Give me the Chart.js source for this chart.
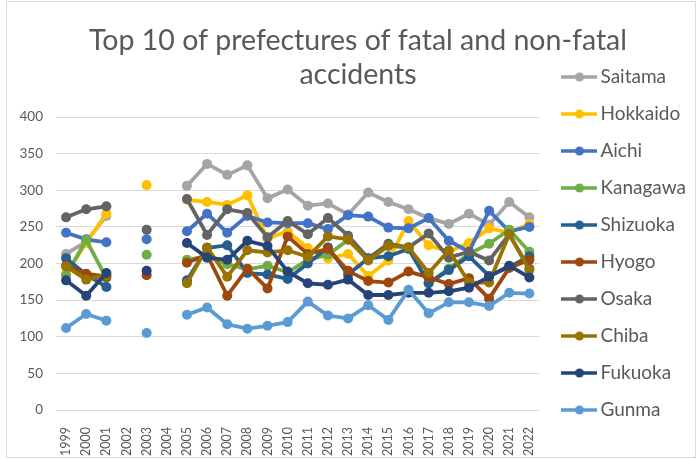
<!DOCTYPE html>
<html>
<head>
<meta charset="utf-8">
<script src="https://cdn.jsdelivr.net/npm/chart.js@4"></script>
<style>
  html, body { margin: 0; padding: 0; background: #fff; }
  #wrap { position: relative; width: 698px; height: 460px; }
  #frame { position: absolute; left: 6px; top: 1px; width: 690px; height: 457px; border: 1px solid #d9d9d9; box-sizing: border-box; pointer-events: none; }
</style>
</head>
<body>
<div id="wrap">
  <canvas id="accidents"></canvas>
  <div id="frame"></div>
</div>
<script>
const years = ['1999', '2000', '2001', '2002', '2003', '2004', '2005', '2006', '2007', '2008', '2009', '2010',
               '2011', '2012', '2013', '2014', '2015', '2016', '2017', '2018', '2019', '2020', '2021', '2022'];

const saitama  = [213, 230, 265, null, null, null, 306, 336, 321, 334, 289, 301, 279, 282, 267, 297, 284, 274, 262, 254, 268, 253, 284, 263];
const hokkaido = [186, 228, 268, null, 307, null, 287, 284, 280, 293, 234, 244, 221, 207, 213, 183, 204, 258, 225, 216, 228, 248, 242, 254];
const aichi    = [242, 233, 229, null, 233, null, 244, 268, 242, 265, 256, 255, 255, 247, 266, 264, 249, 248, 262, 231, 216, 272, 244, 250];
const kanagawa = [184, 232, 180, null, 212, null, 205, 210, 199, 192, 197, 188, 205, 212, 232, 206, 225, 222, 173, 193, 213, 227, 246, 216];
const shizuoka = [207, 185, 168, null, null, null, 177, 221, 225, 187, 185, 179, 200, 222, 185, 207, 210, 220, 173, 191, 210, 183, 195, 210];
const hyogo    = [197, 186, 182, null, 184, null, 201, 212, 156, 193, 166, 237, 213, 220, 190, 176, 174, 189, 181, 172, 180, 152, 194, 205];
const osaka    = [263, 274, 278, null, 246, null, 288, 239, 274, 269, 236, 258, 240, 262, 238, 207, 227, 222, 241, 208, 216, 204, 240, 193];
const chiba    = [196, 178, 184, null, null, null, 173, 222, 182, 218, 215, 218, 209, 237, 233, 204, 224, 222, 187, 218, 174, 174, 240, 191];
const fukuoka  = [177, 156, 187, null, 190, null, 228, 208, 205, 231, 224, 189, 173, 171, 178, 157, 157, 160, 160, 162, 167, 182, 197, 181];
const gunma    = [112, 131, 122, null, 105, null, 130, 140, 117, 111, 115, 120, 148, 129, 125, 143, 123, 164, 132, 147, 147, 142, 160, 159];

const prefectures = ['Saitama', 'Hokkaido', 'Aichi', 'Kanagawa', 'Shizuoka', 'Hyogo', 'Osaka', 'Chiba', 'Fukuoka', 'Gunma'];
const seriesValues = [saitama, hokkaido, aichi, kanagawa, shizuoka, hyogo, osaka, chiba, fukuoka, gunma];
const colors = ['#A5A5A5', '#FFC000', '#4472C4', '#70AD47', '#255E91', '#9E480E', '#636363', '#997300', '#264478', '#5B9BD5'];

const textColor = '#595959';
const fontFamily = 'Lato, "Open Sans", sans-serif';

// little line-with-dot swatch for the legend, like the spreadsheet one
function legendIcon(color) {
    const c = document.createElement('canvas');
    c.width = 36;
    c.height = 12;
    const g = c.getContext('2d');
    g.strokeStyle = color;
    g.lineWidth = 3.5;
    g.beginPath();
    g.moveTo(0, 6);
    g.lineTo(36, 6);
    g.stroke();
    g.fillStyle = color;
    g.beginPath();
    g.arc(18, 6, 4.5, 0, Math.PI * 2);
    g.fill();
    return c;
}
const icons = colors.map(legendIcon);

const datasets = prefectures.map(function (name, i) {
    return {
        label: name,
        data: seriesValues[i],
        borderColor: colors[i],
        backgroundColor: colors[i],
        borderWidth: 3.8,
        pointRadius: 5,
        pointBorderWidth: 0,
        pointBackgroundColor: colors[i],
        spanGaps: false,
        tension: 0,
        order: prefectures.length - i   // later series on top, as in the original
    };
});

// nudge the title a bit right, it sits over the whole chart in the original
const titleShift = {
    id: 'titleShift',
    afterLayout: function (chart) {
        if (chart.titleBlock) {
            chart.titleBlock.left += 10;
            chart.titleBlock.right += 10;
        }
    }
};

new Chart(document.getElementById('accidents'), {
    type: 'line',
    data: { labels: years, datasets: datasets },
    plugins: [titleShift],
    options: {
        responsive: true,
        maintainAspectRatio: false,
        animation: false,
        layout: { padding: { left: 0, right: 2, top: 0, bottom: 0 } },
        plugins: {
            tooltip: { enabled: false },
            title: {
                display: true,
                text: ['Top 10 of prefectures of fatal and non-fatal', 'accidents'],
                color: textColor,
                font: { family: fontFamily, size: 28.5, weight: 'normal', lineHeight: 1.2 },
                padding: { top: 24, bottom: 24.6 }
            },
            legend: {
                position: 'right',
                maxWidth: 220,
                title: { display: true, text: '', font: { size: 10, lineHeight: 1 }, padding: { top: 0, bottom: 17 } },
                labels: {
                    color: textColor,
                    font: { family: fontFamily, size: 19 },
                    usePointStyle: true,
                    pointStyleWidth: 23,
                    padding: 18,
                    sort: function (a, b) { return a.datasetIndex - b.datasetIndex; },
                    generateLabels: function (chart) {
                        const items = Chart.defaults.plugins.legend.labels.generateLabels(chart);
                        items.forEach(function (it) { it.pointStyle = icons[it.datasetIndex]; });
                        return items;
                    }
                }
            }
        },
        scales: {
            x: {
                offset: true,
                grid: { display: false },
                border: { display: false },
                ticks: {
                    color: textColor,
                    font: { family: fontFamily, size: 12.5 },
                    minRotation: 90,
                    maxRotation: 90,
                    autoSkip: false,
                    padding: 9
                },
                afterFit: function (scale) { scale.height = 50; }
            },
            y: {
                min: 0,
                max: 400,
                grid: { color: '#d9d9d9', lineWidth: 1, drawTicks: false },
                border: { display: false },
                ticks: {
                    stepSize: 50,
                    color: textColor,
                    font: { family: fontFamily, size: 13.5 },
                    padding: 13
                },
                afterFit: function (scale) { scale.width = 56; }
            },
            // empty strip between plot and legend
            gap: {
                type: 'linear',
                position: 'right',
                display: true,
                grid: { display: false },
                border: { display: false },
                ticks: { display: false },
                afterFit: function (scale) { scale.width = 10.5; }
            }
        }
    }
});
</script>
</body>
</html>
